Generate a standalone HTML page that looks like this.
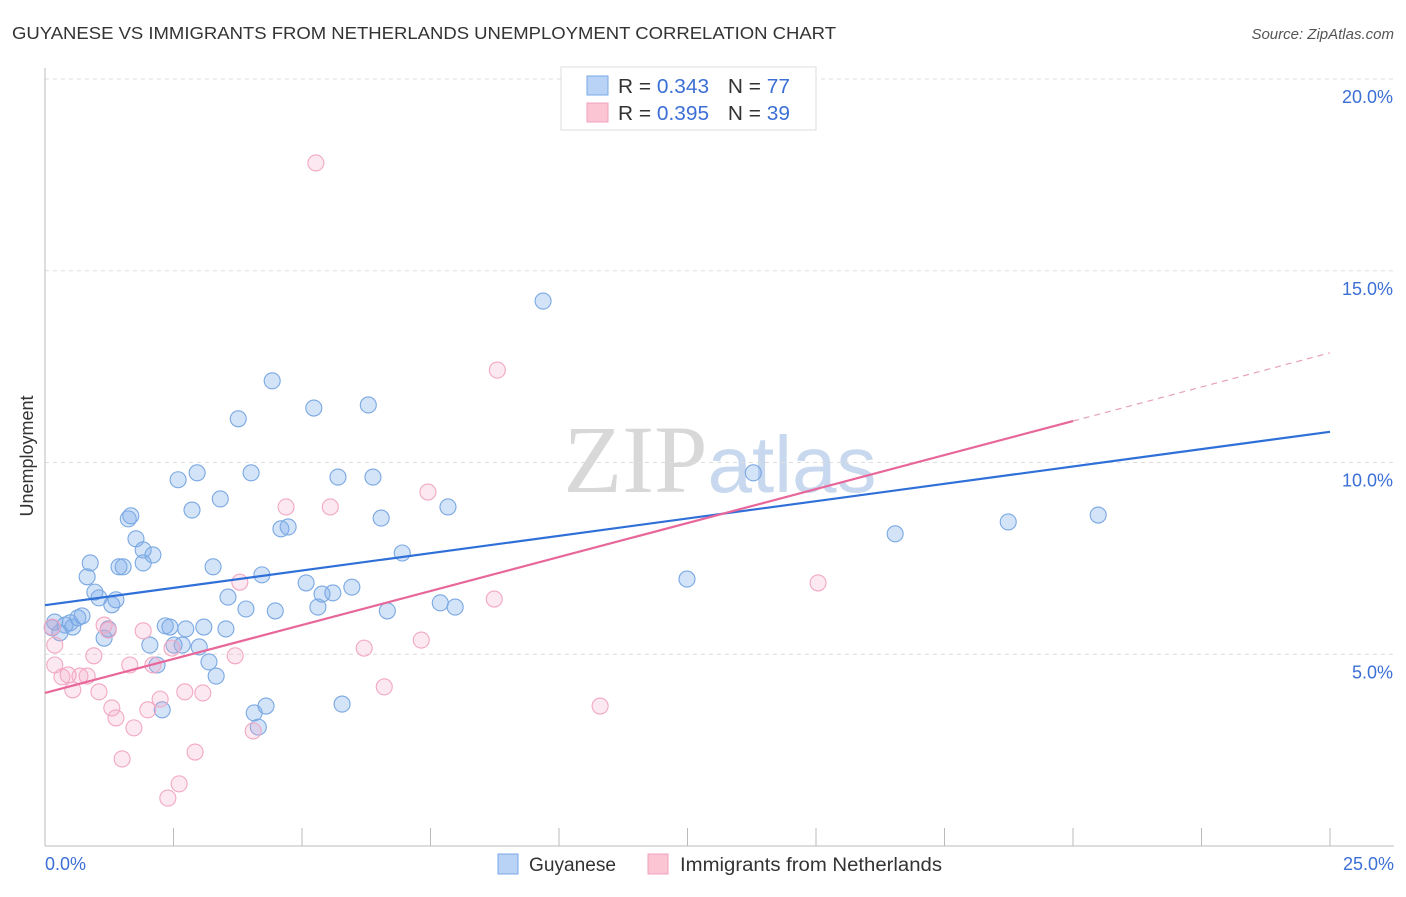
<!DOCTYPE html>
<html><head><meta charset="utf-8">
<style>
body{margin:0;background:#fff;font-family:"Liberation Sans",sans-serif;}
svg text{font-family:"Liberation Sans",sans-serif;}
</style></head>
<body>
<svg id="chart" width="1406" height="892" viewBox="0 0 1406 892">
<text x="12" y="39" font-size="17.5" fill="#333" textLength="824" lengthAdjust="spacingAndGlyphs">GUYANESE VS IMMIGRANTS FROM NETHERLANDS UNEMPLOYMENT CORRELATION CHART</text>
<text x="1394" y="39" font-size="15" fill="#555" text-anchor="end" font-style="italic">Source: ZipAtlas.com</text>
<text x="720" y="492" font-size="96" fill="#ddd" text-anchor="middle"><tspan font-family="Liberation Serif" fill="#d8d8d8">ZIP</tspan><tspan fill="#c8d8ee" font-size="80">atlas</tspan></text>
<g id="grid"></g>
<g id="axes"></g>
<g id="marks"></g>
<text transform="translate(33,456) rotate(-90)" font-size="18" fill="#333" text-anchor="middle">Unemployment</text>
<g>
<rect x="561" y="67" width="255" height="63" fill="#fff" stroke="#ddd"/>
<rect x="587" y="76" width="21" height="19" fill="#b8d3f5" stroke="#7aaae8"/>
<rect x="587" y="103" width="21" height="19" fill="#fbc5d4" stroke="#f0a0bc"/>
<text x="618" y="93" font-size="20" fill="#333" textLength="172" lengthAdjust="spacingAndGlyphs">R = <tspan fill="#3b6fd6">0.343</tspan><tspan dx="18">N = </tspan><tspan fill="#3b6fd6">77</tspan></text>
<text x="618" y="120" font-size="20" fill="#333" textLength="172" lengthAdjust="spacingAndGlyphs">R = <tspan fill="#3b6fd6">0.395</tspan><tspan dx="18">N = </tspan><tspan fill="#3b6fd6">39</tspan></text>
</g>
<g>
<rect x="498" y="854" width="20" height="20" fill="#b8d3f5" stroke="#7aaae8"/>
<text x="529" y="871" font-size="19" fill="#333" textLength="87" lengthAdjust="spacingAndGlyphs">Guyanese</text>
<rect x="648" y="854" width="20" height="20" fill="#fbc5d4" stroke="#f0a0bc"/>
<text x="680" y="871" font-size="19" fill="#333" textLength="262" lengthAdjust="spacingAndGlyphs">Immigrants from Netherlands</text>
</g>
</svg>
<script>
const yTicks=[5,10,15,20];
const yTickLabels=["5.0%","10.0%","15.0%","20.0%"];
const xTickLabels=["0.0%","25.0%"];
const blueX=[0.14,0.19,0.29,0.39,0.49,0.54,0.64,0.72,0.82,0.88,0.97,1.05,1.15,1.23,1.30,1.38,1.44,1.52,1.62,1.67,1.77,1.91,1.91,2.10,2.04,2.18,2.28,2.34,2.43,2.51,2.59,2.67,2.74,2.86,2.96,3.00,3.09,3.19,3.27,3.33,3.41,3.52,3.56,3.76,3.91,4.01,4.07,4.15,4.22,4.30,4.42,4.48,4.59,4.73,5.08,5.23,5.31,5.39,5.60,5.70,5.78,5.97,6.29,6.38,6.54,6.66,6.95,7.69,7.84,7.98,9.69,12.49,13.78,16.54,18.74,20.49];
const blueY=[5.69,5.84,5.56,5.76,5.82,5.71,5.95,6.00,7.02,7.38,6.62,6.47,5.42,5.66,6.29,6.42,7.28,7.28,8.53,8.61,8.01,7.72,7.38,7.59,5.24,4.72,3.55,5.74,5.71,5.24,9.55,5.24,5.66,8.76,9.73,5.19,5.71,4.80,7.28,4.43,9.05,5.66,6.49,11.14,6.18,9.73,3.47,3.10,7.07,3.65,12.13,6.13,8.27,8.32,6.86,11.42,6.23,6.57,6.60,9.62,3.70,6.75,11.50,9.62,8.55,6.13,7.64,6.34,8.84,6.23,14.21,6.96,9.73,8.14,8.45,8.63];
const pinkX=[0.14,0.19,0.19,0.33,0.45,0.54,0.68,0.82,0.95,1.05,1.15,1.23,1.30,1.38,1.50,1.65,1.73,1.91,2.00,2.10,2.24,2.39,2.47,2.61,2.72,2.92,3.07,3.70,3.79,4.05,4.69,5.27,5.55,6.21,6.60,7.32,7.45,8.74,8.80,10.80,15.04];
const pinkY=[5.71,5.24,4.72,4.41,4.46,4.07,4.43,4.43,4.96,4.02,5.76,5.63,3.60,3.34,2.27,4.72,3.08,5.61,3.55,4.72,3.83,1.25,5.16,1.62,4.02,2.45,3.99,4.96,6.88,3.00,8.84,17.81,8.84,5.16,4.15,5.37,9.23,6.44,12.41,3.65,6.86];
const blueTrend=[6.28,10.8];
const pinkTrend=[3.99,11.08,12.86];
const NS="http://www.w3.org/2000/svg";
const sx=v=>45+v*51.4, sy=v=>846-v*38.35;
function mk(tag,attrs,parent){const e=document.createElementNS(NS,tag);for(const k in attrs)e.setAttribute(k,attrs[k]);parent.appendChild(e);return e;}
const grid=document.getElementById('grid'),axes=document.getElementById('axes'),marks=document.getElementById('marks');
yTicks.forEach((t,i)=>{
 const l=mk('line',{x1:45,x2:1394,y1:sy(t),y2:sy(t),stroke:'#ddd','stroke-dasharray':'4,4'},grid);
 
 
 const tx=mk('text',{x:1393,y:sy(t)+24,'font-size':18,fill:'#3b6fd6','text-anchor':'end'},axes);
 tx.textContent=yTickLabels[i];
 
 
});
const xa=mk('line',{x1:45,x2:1394,y1:846,y2:846,stroke:'#bbb'},axes);


const ya=mk('line',{x1:45,x2:45,y1:68,y2:846,stroke:'#bbb'},axes);


for(let i=0;i<=10;i++){const t=mk('line',{x1:sx(i*2.5),x2:sx(i*2.5),y1:828,y2:846,stroke:'#bbb'},axes);
 
 }
[[0,'start',45],[25,'end',1394]].forEach((d,i)=>{const t=mk('text',{x:d[2],y:870,'font-size':18,fill:'#3b6fd6','text-anchor':d[1]},axes);t.textContent=xTickLabels[i];
 
 });
blueX.forEach((x,i)=>{const c=mk('circle',{cx:sx(x),cy:sy(blueY[i]),r:8,fill:'rgba(130,175,235,0.35)',stroke:'#7aa8e2','stroke-width':1.1},marks);
 
 });
pinkX.forEach((x,i)=>{const c=mk('circle',{cx:sx(x),cy:sy(pinkY[i]),r:8,fill:'rgba(245,165,195,0.25)',stroke:'#f2a8c2','stroke-width':1.1},marks);
 
 });
const bl=mk('line',{x1:sx(0),y1:sy(blueTrend[0]),x2:sx(25),y2:sy(blueTrend[1]),stroke:'#2f6fd8','stroke-width':2.2},marks);


const pl=mk('line',{x1:sx(0),y1:sy(pinkTrend[0]),x2:sx(20),y2:sy(pinkTrend[1]),stroke:'#e8679a','stroke-width':2.2},marks);


const pd=mk('line',{x1:sx(20),y1:sy(pinkTrend[1]),x2:sx(25),y2:sy(pinkTrend[2]),stroke:'#e8a0bc','stroke-width':1.2,'stroke-dasharray':'6,5'},marks);


</script>
</body></html>
